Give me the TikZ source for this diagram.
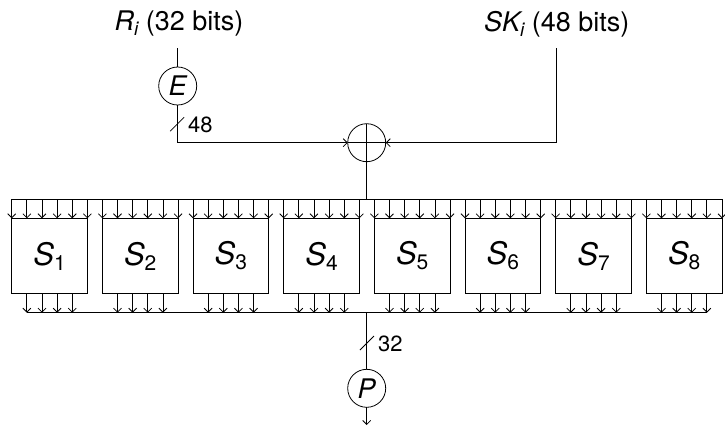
\documentclass[tikz,border=0pt]{standalone}
\usepackage{fontspec}
\setmainfont{TeX Gyre Heros}
\usetikzlibrary{arrows.meta}
\tikzset{
  wire/.style={line width=0.8pt},
  arr/.style={wire,-{Straight Barb[length=4pt,width=8pt]}},
  sbox/.style={draw,line width=0.8pt,minimum width=75.7pt,minimum height=75.4pt,inner sep=0pt,outer sep=0pt},
  op/.style={draw,circle,line width=0.8pt,minimum size=38pt,inner sep=0pt,outer sep=0pt,font=\fontsize{27}{30}\selectfont\itshape},
  biglbl/.style={inner sep=0pt,font=\fontsize{27}{30}\selectfont},
  smalllbl/.style={inner sep=0pt,anchor=west,font=\fontsize{22}{26}\selectfont},
}
\newcommand\sublbl[4]{{\itshape #1}\raisebox{-#4}{\fontsize{#3}{#3}\selectfont #2}}
\begin{document}
\begin{tikzpicture}[x=1pt,y=-1pt]
\useasboundingbox (0,0) rectangle (725,426);
% labels
\node[biglbl] (Ri) at (179,24) {\sublbl{R}{\itshape i}{19}{5pt} (32 bits)};
\node[biglbl] (SKi) at (556.7,24) {\sublbl{SK}{\itshape i}{19}{5pt} (48 bits)};
% E and XOR
\node[op] (E) at (177.7,86) {E};
\node[op] (X) at (366.7,142.7) {};
\draw[wire] (X.north) -- (X.south) (X.west) -- (X.east);
\coordinate (rin) at (177.7,48.3);
\coordinate (ecorner) at (177.7,142.7);
\coordinate (skin) at (556,48.3);
\coordinate (skcorner) at (556,142.7);
\draw[wire] (rin) -- (E.north);
\draw[arr] (E.south) -- (ecorner) -- (X.west);
\draw[arr] (skin) -- (skcorner) -- (X.east);
\coordinate (eslash) at (177.2,124.2);
\draw[wire] ([shift={(-7,7)}]eslash) -- ([shift={(7,-7)}]eslash);
\node[smalllbl] (n48) at (188,124.5) {48};
% S boxes
\foreach \k in {1,...,8} {
  \node[sbox,anchor=north west] (S\k) at ({11.7+90.66*(\k-1)},218.3) {\fontsize{31}{34}\selectfont\sublbl{S}{\k}{21}{5pt}};
}
\coordinate (tb) at (366.7,199);
\draw[wire] (X.south) -- (tb);
\draw[wire] ([shift={(0,-19.3)}]S1.north west) -- ([shift={(0,-19.3)}]S8.north east);
\foreach \k in {1,...,8} {
  \foreach \j in {0,...,5} {
    \draw[arr] (S\k.north west) ++(\j*15.14,-19.3) -- ++(0,19.3);
  }
  \foreach \j in {1,...,4} {
    \draw[arr] (S\k.south west) ++(\j*15.14,0) -- ++(0,19);
  }
}
\coordinate (bbl) at ([shift={(15.14,19)}]S1.south west);
\coordinate (bbr) at ([shift={(60.56,19)}]S8.south west);
\draw[wire] (bbl) -- (bbr);
\coordinate (bb) at (366.7,312.7);
\node[op] (P) at (366.7,388.3) {P};
\draw[wire] (bb) -- (P.north);
\coordinate (pslash) at (367,343);
\draw[wire] ([shift={(-7,7)}]pslash) -- ([shift={(7,-7)}]pslash);
\node[smalllbl] (n32) at (378,343.5) {32};
\coordinate (out) at (366.7,425);
\draw[arr] (P.south) -- (out);
\end{tikzpicture}
\end{document}
